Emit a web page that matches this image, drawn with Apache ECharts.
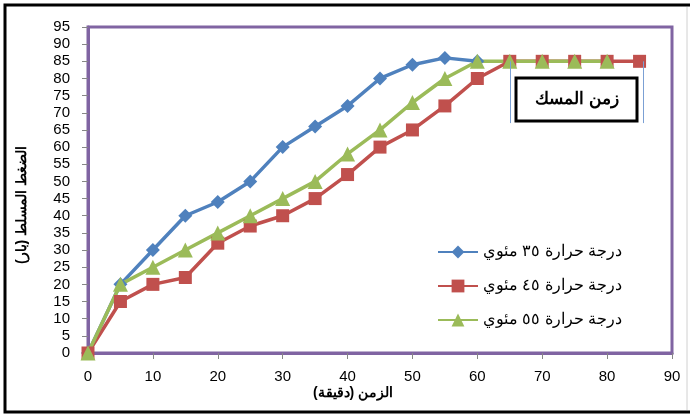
<!DOCTYPE html>
<html>
<head>
<meta charset="utf-8">
<script src="https://cdn.jsdelivr.net/npm/echarts@6/dist/echarts.min.js"></script>
<style>
  html, body { margin: 0; padding: 0; background: #fff; }
  #chart { width: 690px; height: 417px; }
</style>
</head>
<body>
<div id="chart"></div>
<script>
// Time in minutes
const timeMin = [0, 5, 10, 15, 20, 25, 30, 35, 40, 45, 50, 55, 60, 65, 70, 75, 80, 85];

// Applied pressure (bar) at each temperature
const pressure35 = [0, 20, 30, 40, 44, 50, 60, 66, 72, 80, 84, 86, 85];
const pressure45 = [0, 15, 20, 22, 32, 37, 40, 45, 52, 60, 65, 72, 80, 85, 85, 85, 85, 85];
const pressure55 = [0, 20, 25, 30, 35, 40, 45, 50, 58, 65, 73, 80, 85, 85, 85, 85, 85];

const seriesNames = ['درجة حرارة ٣٥ مئوي', 'درجة حرارة ٤٥ مئوي', 'درجة حرارة ٥٥ مئوي '];

// Setting-time span markers (start / end of the plateau)
const settingStart = 65;
const settingEnd = 85;
const settingLabel = 'زمن المسك';

const xTicks = { min: 0, max: 90, interval: 10 };
const yTicks = { min: 0, max: 95, interval: 5 };

const pairs = (ys) => ys.map((v, i) => [timeMin[i], v]);

const chart = echarts.init(document.getElementById('chart'), null, { renderer: 'canvas' });
const font = '"Liberation Sans", Arial, sans-serif';
const purple = '#8064A2';

chart.setOption({
  animation: false,
  backgroundColor: '#fff',
  grid: {
    left: 88, right: 18, top: 27, bottom: 64,
    show: true, borderColor: purple, borderWidth: 3, backgroundColor: 'transparent'
  },
  xAxis: {
    type: 'value', min: xTicks.min, max: xTicks.max, interval: xTicks.interval,
    axisLine: { show: true, lineStyle: { color: purple, width: 3 } },
    axisTick: { show: true, length: 6, lineStyle: { color: '#868686' } },
    splitLine: { show: false },
    axisLabel: { color: '#000', fontSize: 15, fontFamily: font, margin: 16 }
  },
  yAxis: {
    type: 'value', min: yTicks.min, max: yTicks.max, interval: yTicks.interval,
    axisLine: { show: true, lineStyle: { color: purple, width: 3 } },
    axisTick: { show: true, length: 6, lineStyle: { color: '#868686' } },
    splitLine: { show: false },
    axisLabel: { color: '#000', fontSize: 15, fontFamily: font, margin: 18 }
  },
  legend: {
    orient: 'vertical', left: 432, top: 239, itemGap: 18,
    itemWidth: 40, itemHeight: 16,
    textStyle: { color: '#000', fontSize: 16, fontFamily: font },
    data: seriesNames
  },
  series: [
    {
      name: seriesNames[0], type: 'line', data: pairs(pressure35),
      symbol: 'diamond', symbolSize: 14,
      lineStyle: { color: '#4F81BD', width: 3.5 },
      itemStyle: { color: '#4F81BD' }
    },
    {
      name: seriesNames[1], type: 'line', data: pairs(pressure45),
      symbol: 'rect', symbolSize: 13,
      lineStyle: { color: '#C0504D', width: 3.5 },
      itemStyle: { color: '#C0504D' },
      markLine: {
        silent: true, symbol: 'none', label: { show: false },
        lineStyle: { color: '#7BA0D4', width: 1, type: 'solid' },
        data: [
          [{ coord: [settingStart, 85] }, { coord: [settingStart, 67] }],
          [{ coord: [settingEnd + 0.5, 85] }, { coord: [settingEnd + 0.5, 67] }]
        ]
      }
    },
    {
      name: seriesNames[2], type: 'line', data: pairs(pressure55),
      symbol: 'triangle', symbolSize: 15,
      lineStyle: { color: '#9BBB59', width: 3.5 },
      itemStyle: { color: '#9BBB59' }
    }
  ],
  graphic: [
    // outer frame
    { type: 'rect', shape: { x: 5, y: 5, width: 700, height: 407 },
      style: { fill: 'none', stroke: '#000', lineWidth: 3 }, z: 100 },
    { type: 'line', shape: { x1: 687, y1: 7, x2: 687, y2: 410 },
      style: { stroke: '#D0D0D0', lineWidth: 1 }, z: 100 },
    // setting-time box
    { type: 'rect', shape: { x: 516, y: 78, width: 121, height: 43 },
      style: { fill: '#fff', stroke: '#000', lineWidth: 3 }, z: 100 },
    { type: 'text', x: 577, y: 99, z: 101,
      style: { text: settingLabel, fill: '#000', font: 'bold 17px ' + font, align: 'center', verticalAlign: 'middle' } },
    // axis titles
    { type: 'text', x: 353, y: 393, z: 101,
      style: { text: 'الزمن (دقيقة)', fill: '#000', font: 'bold 14px ' + font, align: 'center', verticalAlign: 'middle' } },
    { type: 'text', x: 22, y: 205, rotation: Math.PI / 2, z: 101,
      style: { text: 'الضغط المسلط (بار)', fill: '#000', font: 'bold 14px ' + font, align: 'center', verticalAlign: 'middle' } }
  ]
});
</script>
</body>
</html>
